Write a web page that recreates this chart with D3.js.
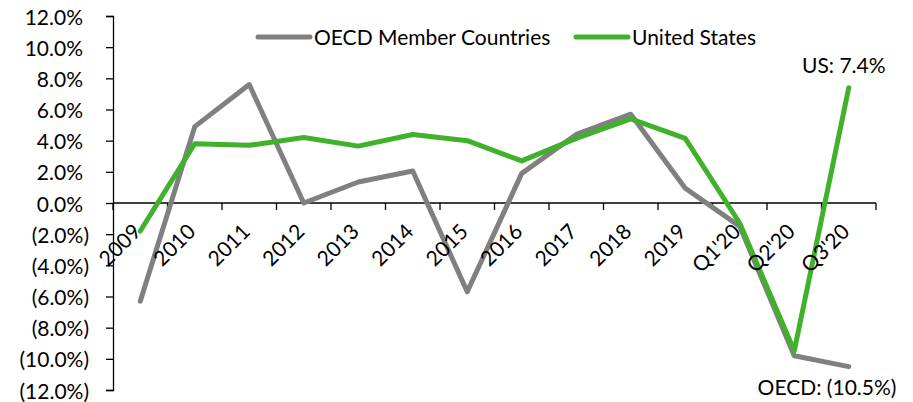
<!DOCTYPE html>
<html>
<head>
<meta charset="utf-8">
<script src="https://cdn.jsdelivr.net/npm/d3@7"></script>
<style>
  body { margin: 0; background: #fff; }
  text { font-family: Lato, "Open Sans", sans-serif; fill: #000; }
</style>
</head>
<body>
<svg id="chart" width="913" height="402"></svg>
<script>
const categories = ["2009", "2010", "2011", "2012", "2013", "2014", "2015", "2016", "2017", "2018", "2019", "Q1'20", "Q2'20", "Q3'20"];
const oecd = [-6.3, 4.9, 7.6, 0.0, 1.35, 2.05, -5.7, 1.9, 4.4, 5.7, 0.95, -1.5, -9.8, -10.5];
const us = [-1.8, 3.8, 3.7, 4.2, 3.65, 4.4, 4.0, 2.7, 4.15, 5.4, 4.15, -1.3, -9.5, 7.4];
const yTicks = [-12, -10, -8, -6, -4, -2, 0, 2, 4, 6, 8, 10, 12];

const svg = d3.select("#chart");
const plotL = 113, plotR = 876, plotT = 16, plotB = 390;
const fs = 21;

const x = d3.scaleBand().domain(categories).range([plotL, plotR]);
const y = d3.scaleLinear().domain([-12, 12]).range([plotB, plotT]);
const cx = d => x(d) + x.bandwidth() / 2;

const fmt = v => v < 0 ? "(" + Math.abs(v).toFixed(1) + "%)" : v.toFixed(1) + "%";

// y axis
const yAxis = svg.append("g")
  .attr("transform", `translate(${plotL},0)`)
  .call(d3.axisLeft(y).tickValues(yTicks).tickSize(7).tickFormat(""));
yAxis.select(".domain").attr("stroke", "#000").attr("stroke-width", 1.3);
yAxis.selectAll(".tick line").attr("stroke", "#000").attr("stroke-width", 1.3);

svg.append("g").selectAll("text")
  .data(yTicks)
  .join("text")
  .attr("x", d => d < 0 ? 89 : 83)
  .attr("y", d => y(d) + 8.5)
  .attr("text-anchor", "end")
  .attr("font-size", fs)
  .text(fmt);

// x axis at zero
const xAxis = svg.append("g").attr("transform", `translate(0,${y(0)})`);
xAxis.append("line")
  .attr("x1", plotL).attr("x2", plotR)
  .attr("stroke", "#000").attr("stroke-width", 1.3);
xAxis.selectAll(".xt")
  .data(categories.concat(["end"]))
  .join("line")
  .attr("class", "xt")
  .attr("x1", (d, i) => i < categories.length ? x(d) : plotR)
  .attr("x2", (d, i) => i < categories.length ? x(d) : plotR)
  .attr("y1", 0).attr("y2", 7)
  .attr("stroke", "#000").attr("stroke-width", 1.3);

// lines
const line = data => d3.line()
  .x((d, i) => cx(categories[i]))
  .y(d => y(d))(data);

svg.append("path")
  .attr("d", line(oecd))
  .attr("fill", "none")
  .attr("stroke", "#808080")
  .attr("stroke-width", 5)
  .attr("stroke-linecap", "round")
  .attr("stroke-linejoin", "round");

svg.append("path")
  .attr("d", line(us))
  .attr("fill", "none")
  .attr("stroke", "#41b02b")
  .attr("stroke-width", 5)
  .attr("stroke-linecap", "round")
  .attr("stroke-linejoin", "round");

// x labels, rotated
svg.append("g").selectAll("text")
  .data(categories)
  .join("text")
  .attr("transform", d => `translate(${cx(d) + 2},${y(0) + 30}) rotate(-45)`)
  .attr("text-anchor", "end")
  .attr("font-size", fs)
  .text(d => d);

// legend
const legend = [
  { name: "OECD Member Countries", color: "#808080", x0: 258 },
  { name: "United States", color: "#41b02b", x0: 576 }
];
const lg = svg.append("g");
legend.forEach(l => {
  lg.append("line")
    .attr("x1", l.x0).attr("x2", l.x0 + 52)
    .attr("y1", 37).attr("y2", 37)
    .attr("stroke", l.color).attr("stroke-width", 5)
    .attr("stroke-linecap", "round");
  lg.append("text")
    .attr("x", l.x0 + 56).attr("y", 45)
    .attr("font-size", fs)
    .text(l.name);
});

// annotations
const last = categories[categories.length - 1];
svg.append("text")
  .attr("x", cx(last) - 5)
  .attr("y", 73)
  .attr("text-anchor", "middle")
  .attr("font-size", fs)
  .text("US: 7.4%");
svg.append("text")
  .attr("x", 827)
  .attr("y", 395)
  .attr("text-anchor", "middle")
  .attr("font-size", fs)
  .text("OECD: (10.5%)");
</script>
</body>
</html>
